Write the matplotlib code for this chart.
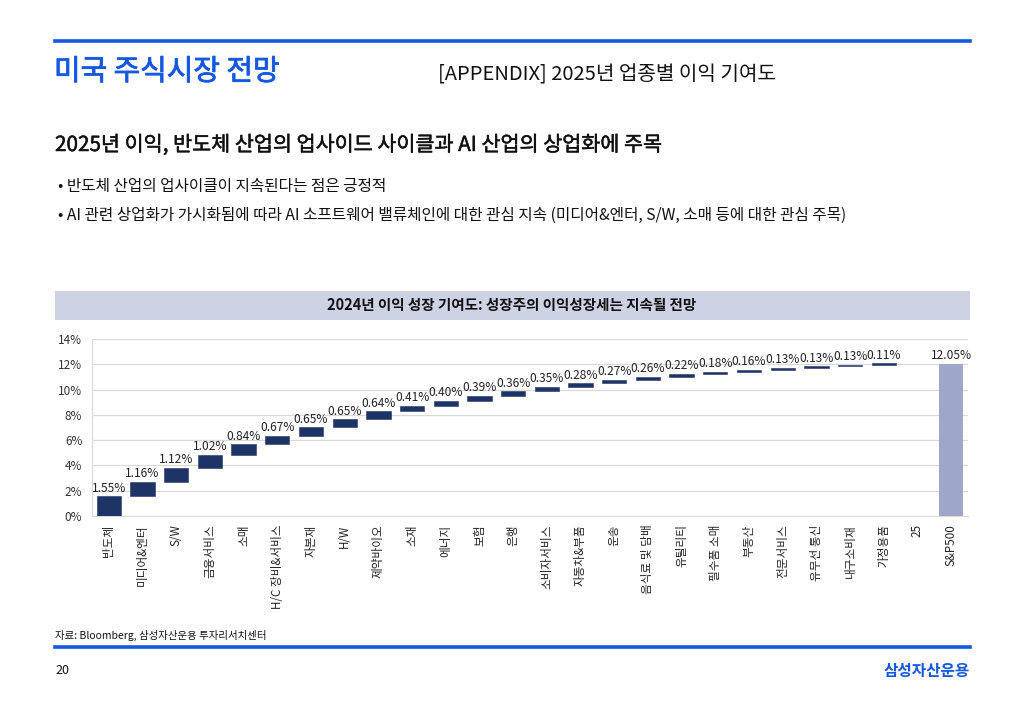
import matplotlib
matplotlib.use("Agg")
import matplotlib.pyplot as plt
import matplotlib.patheffects as pe
import numpy as np

plt.rcParams['font.family'] = ['Noto Sans CJK KR', 'DejaVu Sans']

categories = ["반도체", "미디어&엔터", "S/W", "금융서비스", "소매", "H/C 장비&서비스", "자본재", "H/W",
              "제약바이오", "소재", "에너지", "보험", "은행", "소비자서비스", "자동차&부품", "운송",
              "음식료 및 담배", "유틸리티", "필수품 소매", "부동산", "전문서비스", "유무선 통신",
              "내구소비재", "가정용품", "25", "S&P500"]
contrib = [1.55, 1.16, 1.12, 1.02, 0.84, 0.67, 0.65, 0.65, 0.64, 0.41, 0.40, 0.39, 0.36, 0.35,
           0.28, 0.27, 0.26, 0.22, 0.18, 0.16, 0.13, 0.13, 0.13, 0.11]
total = 12.05
yticks = [0, 2, 4, 6, 8, 10, 12, 14]

fig = plt.figure(figsize=(10.24, 7.09), dpi=100)
W, H = 1024, 709

def fx(x): return x / W
def fy(y): return 1 - y / H

blue = '#1558e0'
# top rule
fig.add_artist(plt.Line2D([fx(55), fx(970)], [fy(41), fy(41)], color=blue, lw=2.6))
fig.text(fx(54), fy(72), "미국 주식시장 전망", color=blue, fontsize=20.8, va='center', ha='left',
         path_effects=[pe.withStroke(linewidth=0.6, foreground=blue)])
fig.text(fx(438), fy(75), "[APPENDIX] 2025년 업종별 이익 기여도", color='#111111', fontsize=14.5, va='center', ha='left')
fig.text(fx(55), fy(145), "2025년 이익, 반도체 산업의 업사이드 사이클과 AI 산업의 상업화에 주목", color='#111111',
         fontsize=14.9, va='center', ha='left',
         path_effects=[pe.withStroke(linewidth=0.35, foreground='#111111')])
fig.text(fx(58), fy(187), "• 반도체 산업의 업사이클이 지속된다는 점은 긍정적", color='#111111', fontsize=11.3, va='center', ha='left')
fig.text(fx(58), fy(215), "• AI 관련 상업화가 가시화됨에 따라 AI 소프트웨어 밸류체인에 대한 관심 지속 (미디어&엔터, S/W, 소매 등에 대한 관심 주목)",
         color='#111111', fontsize=11.3, va='center', ha='left')

# chart title band
fig.add_artist(plt.Rectangle((fx(55), fy(320)), fx(970) - fx(55), (320 - 291) / H, color='#cdd3e5', lw=0))
fig.text(fx(512), fy(305), "2024년 이익 성장 기여도: 성장주의 이익성장세는 지속될 전망", color='#111111',
         fontsize=10.5, fontweight='bold', va='center', ha='center')

# source and footer
fig.text(fx(55), fy(635), "자료: Bloomberg, 삼성자산운용 투자리서치센터", color='#111111', fontsize=7.5, va='center', ha='left')
fig.add_artist(plt.Line2D([fx(55), fx(970)], [fy(647), fy(647)], color=blue, lw=2.6))
fig.text(fx(55), fy(671), "20", color='#111111', fontsize=9, va='center', ha='left')
fig.text(fx(970), fy(671), "삼성자산운용", color=blue, fontsize=11.3, fontweight='bold', va='center', ha='right')

# chart axes
ax = fig.add_axes([fx(92), fy(516), fx(968) - fx(92), (516 - 339) / H])
n = len(categories)
x = np.arange(n)
bottoms = np.concatenate([[0], np.cumsum(contrib)[:-1]])
navy = '#1f3466'
ax.bar(x[:len(contrib)], contrib, bottom=bottoms, width=0.72, color=navy, edgecolor=navy, lw=0.4, zorder=3)
ax.bar([n - 1], [total], width=0.72, color='#9ea7c9', zorder=3)
for i, (b, v) in enumerate(zip(bottoms, contrib)):
    ax.text(i, b + v + 0.12, f"{v:.2f}%", ha='center', va='bottom', fontsize=8.6, color='#222222', zorder=4)
ax.text(n - 1, total + 0.12, f"{total:.2f}%", ha='center', va='bottom', fontsize=8.6, color='#222222', zorder=4)

ax.set_xlim(-0.5, n - 0.5)
ax.set_ylim(0, 14)
ax.set_yticks(yticks)
ax.set_yticklabels([f"{t}%" for t in yticks], fontsize=8.5, color='#333333')
ax.set_xticks(x)
ax.set_xticklabels(categories, rotation=90, fontsize=8.4, color='#222222', va='top', ha='center')
ax.tick_params(axis='both', length=0, pad=6)
ax.tick_params(axis='y', pad=7)
ax.grid(axis='y', color='#d9d9d9', lw=0.9, zorder=0)
for s in ['top', 'right']:
    ax.spines[s].set_visible(False)
ax.spines['left'].set_color('#d9d9d9')
ax.spines['bottom'].set_color('#d9d9d9')

fig.savefig("out.png", dpi=100)
